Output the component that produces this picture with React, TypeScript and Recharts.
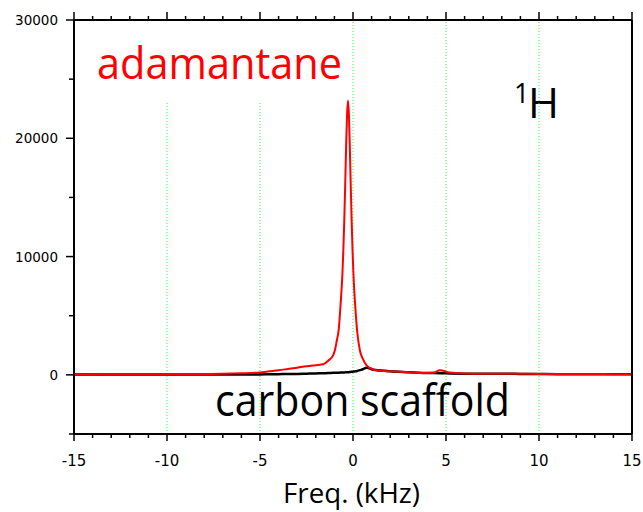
import {
  LineChart,
  Line,
  XAxis,
  YAxis,
  ReferenceLine,
  Customized,
} from "recharts";

// frequency offset in kHz
const freq = [
  -15, -14, -13, -12, -11, -10, -9, -8, -7, -6, -5, -4.5, -4, -3.5, -3, -2.5, -2,
  -1.6, -1.33, -1.07, -0.97, -0.87, -0.77, -0.67, -0.57, -0.52, -0.47, -0.42, -0.37,
  -0.32, -0.27,
  -0.22, -0.17, -0.12, -0.07, -0.02, 0.03, 0.13, 0.23, 0.38, 0.53, 0.73,
  1.1, 1.5, 2, 3, 3.78, 4.3, 4.68, 5.2,
  6, 7, 8, 9, 10, 11, 12, 13, 14, 15,
];

const adamantane = [
  40, 40, 50, 50, 60, 60, 70, 80, 90, 130, 210, 300, 390, 500, 610, 730, 820,
  890, 1200, 1650, 2100, 2900, 3800, 5900, 8500, 10500, 13000, 16000, 19300,
  22000, 23200,
  22000, 19200, 15900, 12900, 10300, 8300, 5600, 3600, 2000, 1350, 800,
  440, 340, 300, 210, 150, 170, 380, 190,
  120, 100, 100, 90, 80, 80, 70, 70, 60, 60,
];

const scaffold = [
  20, 20, 20, 20, 20, 20, 20, 20, 30, 30, 40, 50, 60, 70, 80, 100, 120,
  140, 150, 170, 175, 180, 185, 190, 195, 200, 205, 210, 215,
  220, 225,
  230, 240, 250, 255, 265, 280, 300, 330, 400, 470, 610,
  430, 360, 300, 220, 160, 150, 140, 120,
  100, 90, 90, 80, 70, 60, 60, 50, 50, 50,
];

const xTicks = [
  -15, -14, -13, -12, -11, -10, -9, -8, -7, -6, -5, -4, -3, -2, -1, 0,
  1, 2, 3, 4, 5, 6, 7, 8, 9, 10, 11, 12, 13, 14, 15,
];
const yTicks = [-5000, 0, 5000, 10000, 15000, 20000, 25000, 30000];
const fullGrid = [0, 5, 10];
const shortGrid = [-10, -5];

const data = freq.map((f, i) => ({
  f,
  red: adamantane[i],
  black: scaffold[i],
}));

const tickFont = "'DejaVu Sans', Verdana, sans-serif";
const textFont = "'Open Sans', 'Noto Sans', sans-serif";
const gridColor = "#3fee3f";

function BottomTick({ x, y, payload }: any) {
  const major = payload.value % 5 === 0;
  return (
    <g>
      <line x1={x} x2={x} y1={y} y2={y + (major ? 7 : 4)} stroke="#000" strokeWidth={1.5} />
      {major && (
        <text x={x} y={y + 32} textAnchor="middle" fontSize={15} fontFamily={tickFont} fill="#000">
          {payload.value}
        </text>
      )}
    </g>
  );
}

function TopTick({ x, y, payload }: any) {
  const major = payload.value % 5 === 0;
  return <line x1={x} x2={x} y1={y} y2={y - (major ? 8 : 4)} stroke="#000" strokeWidth={1.5} />;
}

function LeftTick({ x, y, payload }: any) {
  const major = payload.value % 10000 === 0;
  return (
    <g>
      <line x1={x} x2={x - (major ? 8 : 5)} y1={y} y2={y} stroke="#000" strokeWidth={1.5} />
      {major && (
        <text x={x - 16} y={y + 5} textAnchor="end" fontSize={13.5} fontFamily={tickFont} fill="#000">
          {payload.value}
        </text>
      )}
    </g>
  );
}

function RightTick({ x, y }: any) {
  return <line x1={x} x2={x + 3} y1={y} y2={y} stroke="#000" strokeWidth={1.5} />;
}

function Annotations() {
  return (
    <g>
      <text x={97} y={79} fontSize={43} fontFamily={textFont} fill="#ff0000" textLength={245} lengthAdjust="spacingAndGlyphs">
        adamantane
      </text>
      <text x={514} y={103} fontSize={27} fontFamily={textFont} fill="#000">
        1
      </text>
      <text x={528} y={118} fontSize={42} fontFamily={textFont} fill="#000">
        H
      </text>
      <text x={215} y={416} fontSize={43} fontFamily={textFont} fill="#000" textLength={295} lengthAdjust="spacingAndGlyphs">
        carbon scaffold
      </text>
      <text x={283} y={503} fontSize={27} fontFamily={textFont} fill="#000" textLength={137} lengthAdjust="spacingAndGlyphs">
        Freq. (kHz)
      </text>
    </g>
  );
}

export default function App() {
  return (
    <div style={{ position: "absolute", left: 0, top: 0, background: "#fff" }}>
      <LineChart
        width={643}
        height={512}
        data={data}
        margin={{ top: 10, right: 0, bottom: 0, left: 0 }}
      >
        <XAxis
          xAxisId="bottom"
          dataKey="f"
          type="number"
          domain={[-15, 15]}
          ticks={xTicks}
          interval={0}
          height={78}
          tickSize={0}
          tickMargin={0}
          tickLine={false}
          tick={<BottomTick />}
          axisLine={{ stroke: "#000", strokeWidth: 2 }}
        />
        <XAxis
          xAxisId="top"
          orientation="top"
          dataKey="f"
          type="number"
          domain={[-15, 15]}
          ticks={xTicks}
          interval={0}
          height={10}
          tickSize={0}
          tickMargin={0}
          tickLine={false}
          tick={<TopTick />}
          axisLine={{ stroke: "#000", strokeWidth: 2 }}
        />
        <YAxis
          yAxisId="left"
          type="number"
          domain={[-5000, 30000]}
          ticks={yTicks}
          interval={0}
          width={74}
          tickSize={0}
          tickMargin={0}
          tickLine={false}
          tick={<LeftTick />}
          axisLine={{ stroke: "#000", strokeWidth: 2 }}
        />
        <YAxis
          yAxisId="right"
          orientation="right"
          type="number"
          domain={[-5000, 30000]}
          ticks={yTicks}
          interval={0}
          width={11}
          tickSize={0}
          tickMargin={0}
          tickLine={false}
          tick={<RightTick />}
          axisLine={{ stroke: "#000", strokeWidth: 2 }}
        />

        {fullGrid.map((v) => (
          <ReferenceLine
            key={v}
            xAxisId="bottom"
            yAxisId="left"
            x={v}
            stroke={gridColor}
            strokeDasharray="1 2"
            strokeWidth={1}
          />
        ))}
        {shortGrid.map((v) => (
          <ReferenceLine
            key={v}
            xAxisId="bottom"
            yAxisId="left"
            segment={[
              { x: v, y: -5000 },
              { x: v, y: 23000 },
            ]}
            stroke={gridColor}
            strokeDasharray="1 2"
            strokeWidth={1}
          />
        ))}

        <Line
          xAxisId="bottom"
          yAxisId="left"
          dataKey="black"
          type="monotone"
          stroke="#000000"
          strokeWidth={2.5}
          dot={false}
          isAnimationActive={false}
        />
        <Line
          xAxisId="bottom"
          yAxisId="left"
          dataKey="red"
          type="monotone"
          stroke="#ff0000"
          strokeWidth={2}
          dot={false}
          isAnimationActive={false}
        />
        <Customized component={Annotations} />
      </LineChart>
    </div>
  );
}
